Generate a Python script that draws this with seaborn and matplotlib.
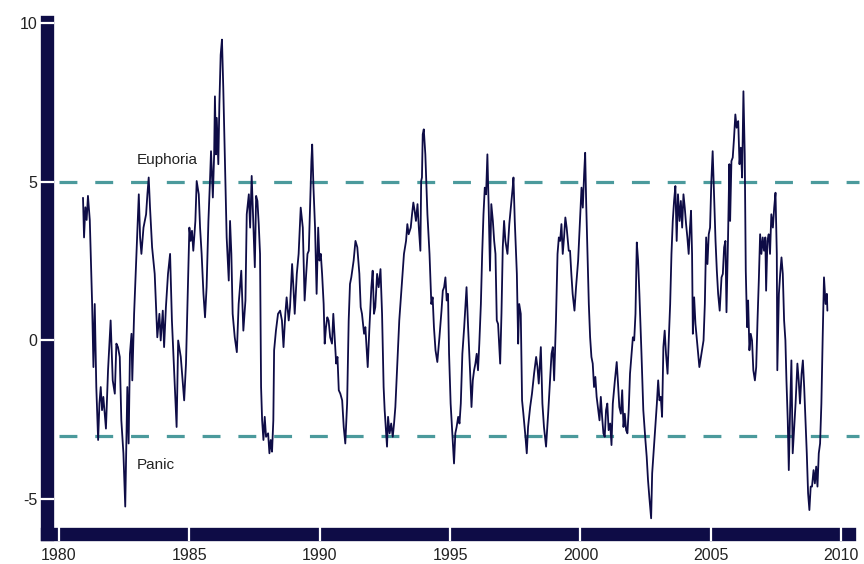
import matplotlib
matplotlib.use("Agg")
import matplotlib.pyplot as plt
import numpy as np
import pandas as pd
import seaborn as sns

# ---------------- data (decimal year, sentiment index) ----------------
t_1981_85 = [1980.92, 1980.96, 1981.01, 1981.06, 1981.11, 1981.18, 1981.27, 1981.32, 1981.37, 1981.43,
             1981.50, 1981.55, 1981.60, 1981.65, 1981.70, 1981.80, 1981.88, 1981.98, 1982.06, 1982.14,
             1982.20, 1982.26, 1982.33, 1982.39, 1982.47, 1982.54, 1982.62, 1982.67, 1982.72, 1982.78,
             1982.81, 1982.88, 1982.95, 1983.06, 1983.11, 1983.16, 1983.24, 1983.34, 1983.39, 1983.44,
             1983.49, 1983.57, 1983.67, 1983.77, 1983.85, 1983.90, 1983.98, 1984.03, 1984.10, 1984.18,
             1984.26, 1984.33, 1984.44, 1984.51, 1984.57, 1984.67, 1984.80, 1984.87, 1984.95, 1985.00,
             1985.05, 1985.10, 1985.15, 1985.23, 1985.28, 1985.36, 1985.41]
v_1981_85 = [4.50, 3.25, 4.20, 3.80, 4.56, 3.80, 1.15, -0.84, 1.15, -1.47,
             -3.14, -1.99, -1.47, -2.20, -1.78, -2.78, -0.94, 0.63, -1.26, -1.68,
             -0.10, -0.21, -0.52, -2.52, -3.56, -5.24, -1.47, -3.25, -0.42, 0.21,
             -1.26, 0.84, 2.31, 4.61, 3.25, 2.73, 3.56, 3.98, 4.61, 5.14,
             4.20, 2.94, 2.10, 0.10, 0.84, 0.00, 0.94, -0.21, 1.05, 2.10,
             2.73, 0.63, -1.47, -2.73, 0.00, -0.52, -1.89, -0.73, 1.89, 3.56,
             3.14, 3.46, 2.83, 3.77, 5.03, 4.61, 3.56]

t_1985_90 = [1985.47, 1985.54, 1985.60, 1985.66, 1985.73, 1985.79, 1985.83, 1985.90, 1985.95, 1985.98,
             1986.02, 1986.05, 1986.11, 1986.15, 1986.20, 1986.25, 1986.30, 1986.37, 1986.43, 1986.51,
             1986.56, 1986.61, 1986.66, 1986.74, 1986.82, 1986.89, 1986.99, 1987.07, 1987.15, 1987.20,
             1987.28, 1987.33, 1987.39, 1987.45, 1987.51, 1987.56, 1987.61, 1987.66, 1987.71, 1987.75,
             1987.79, 1987.84, 1987.89, 1987.94, 1988.02, 1988.07, 1988.12, 1988.17, 1988.22, 1988.25,
             1988.32, 1988.40, 1988.48, 1988.55, 1988.61, 1988.68, 1988.73, 1988.81, 1988.86, 1988.94,
             1988.99, 1989.04, 1989.12, 1989.19, 1989.27, 1989.35, 1989.42, 1989.48, 1989.53, 1989.58,
             1989.63, 1989.68, 1989.71, 1989.76, 1989.82, 1989.88, 1989.94, 1989.99, 1990.04, 1990.09]
v_1985_90 = [2.73, 1.47, 0.73, 1.68, 3.77, 5.03, 5.97, 4.51, 5.87, 7.70,
             5.87, 7.02, 5.56, 7.44, 9.01, 9.49, 7.97, 5.35, 3.25, 1.89,
             3.77, 2.73, 0.84, 0.10, -0.37, 1.15, 2.20, 0.31, 1.26, 3.98,
             4.61, 3.56, 5.19, 3.77, 2.31, 4.56, 4.40, 3.67, 2.73, -1.47,
             -2.52, -3.14, -2.41, -3.04, -2.93, -3.56, -3.14, -3.51, -2.52, -0.31,
             0.31, 0.84, 0.94, 0.63, -0.21, 0.84, 1.36, 0.63, 1.05, 2.41,
             1.68, 0.84, 2.10, 2.73, 4.19, 3.56, 1.26, 2.10, 2.73, 2.83,
             4.19, 5.66, 6.18, 4.82, 3.56, 1.47, 3.56, 2.52, 2.73, 2.10]

t_1990_94 = [1990.15, 1990.19, 1990.24, 1990.29, 1990.34, 1990.40, 1990.47, 1990.52, 1990.57, 1990.63,
             1990.68, 1990.73, 1990.79, 1990.86, 1990.92, 1990.98, 1991.05, 1991.11, 1991.16, 1991.21,
             1991.30, 1991.37, 1991.44, 1991.52, 1991.57, 1991.62, 1991.70, 1991.75, 1991.84, 1991.90,
             1991.98, 1992.03, 1992.08, 1992.13, 1992.20, 1992.26, 1992.33, 1992.39, 1992.45, 1992.49,
             1992.54, 1992.58, 1992.62, 1992.68, 1992.74, 1992.80, 1992.85, 1992.90, 1992.98, 1993.05,
             1993.16, 1993.23, 1993.31, 1993.36, 1993.41, 1993.49, 1993.54, 1993.59, 1993.64, 1993.69,
             1993.75, 1993.80, 1993.86, 1993.89, 1993.92, 1993.95, 1993.99, 1994.05, 1994.13, 1994.21,
             1994.28, 1994.33, 1994.38, 1994.44, 1994.51, 1994.59, 1994.67, 1994.72, 1994.77, 1994.82,
             1994.87]
v_1990_94 = [1.15, -0.10, 0.42, 0.73, 0.63, 0.10, -0.10, 0.84, 0.10, -0.73,
             -0.52, -1.57, -1.68, -1.89, -2.73, -3.25, -1.99, 0.63, 1.78, 1.99,
             2.52, 3.14, 2.94, 2.10, 1.05, 0.84, 0.21, 0.42, -0.84, 0.31,
             1.68, 2.20, 0.84, 1.05, 2.10, 1.68, 2.25, 0.84, -1.47, -2.20,
             -2.83, -3.35, -2.41, -2.93, -2.62, -3.04, -2.62, -2.10, -0.63, 0.63,
             1.89, 2.73, 3.14, 3.67, 3.35, 3.56, 3.98, 4.35, 4.09, 3.77,
             4.30, 3.56, 2.83, 5.03, 5.14, 6.50, 6.66, 5.87, 3.98, 2.73,
             1.15, 1.36, 0.42, -0.31, -0.68, 0.10, 0.94, 1.57, 1.68, 1.99,
             1.26]

t_1995_99 = [1994.92, 1994.96, 1995.02, 1995.09, 1995.15, 1995.20, 1995.25, 1995.31, 1995.36, 1995.41,
             1995.47, 1995.54, 1995.63, 1995.69, 1995.77, 1995.82, 1995.87, 1995.92, 1995.97, 1996.02,
             1996.07, 1996.12, 1996.18, 1996.23, 1996.28, 1996.33, 1996.38, 1996.43, 1996.48, 1996.53,
             1996.58, 1996.64, 1996.69, 1996.74, 1996.79, 1996.84, 1996.92, 1996.97, 1997.02, 1997.07,
             1997.12, 1997.20, 1997.27, 1997.33, 1997.40, 1997.43, 1997.48, 1997.56, 1997.61, 1997.65,
             1997.71, 1997.76, 1997.81, 1997.89, 1997.94, 1997.99, 1998.07, 1998.14, 1998.22, 1998.30,
             1998.35, 1998.40, 1998.48, 1998.54, 1998.60, 1998.68, 1998.76, 1998.83, 1998.89, 1998.94,
             1998.99, 1999.06, 1999.12, 1999.17, 1999.22, 1999.27, 1999.32, 1999.37, 1999.42, 1999.47,
             1999.55]
v_1995_99 = [1.47, -0.42, -1.99, -3.04, -3.88, -2.93, -2.73, -2.41, -2.62, -1.99,
             -0.42, 0.42, 1.68, 0.42, -1.05, -2.10, -1.26, -0.94, -0.73, -0.42,
             -0.94, -0.10, 1.15, 2.73, 3.98, 4.82, 4.61, 5.87, 4.19, 2.20,
             4.30, 3.77, 3.14, 2.73, 0.63, 0.52, -0.73, 0.84, 2.94, 3.77,
             3.14, 2.73, 3.67, 4.19, 4.82, 5.14, 3.77, 2.10, -0.10, 1.15,
             0.84, -1.89, -2.31, -3.04, -3.56, -2.73, -2.10, -1.68, -1.05, -0.52,
             -0.84, -1.36, -0.21, -1.99, -2.73, -3.35, -2.31, -1.26, -0.42, -0.21,
             -1.26, 0.63, 2.73, 3.25, 3.14, 3.67, 2.73, 3.25, 3.88, 3.56,
             2.83]

t_1999_04 = [1999.60, 1999.65, 1999.70, 1999.77, 1999.83, 1999.91, 1999.99, 2000.04, 2000.09, 2000.14,
             2000.18, 2000.22, 2000.27, 2000.32, 2000.37, 2000.42, 2000.47, 2000.52, 2000.57, 2000.62,
             2000.68, 2000.73, 2000.78, 2000.83, 2000.88, 2000.93, 2000.98, 2001.03, 2001.08, 2001.14,
             2001.19, 2001.24, 2001.32, 2001.39, 2001.44, 2001.49, 2001.55, 2001.60, 2001.65, 2001.70,
             2001.75, 2001.80, 2001.85, 2001.90, 2001.95, 2002.01, 2002.06, 2002.11, 2002.16, 2002.21,
             2002.26, 2002.34, 2002.41, 2002.49, 2002.54, 2002.59, 2002.64, 2002.71, 2002.75, 2002.80,
             2002.87, 2002.93, 2002.98, 2003.03, 2003.08, 2003.13, 2003.18, 2003.23, 2003.28, 2003.34,
             2003.39, 2003.44, 2003.49, 2003.54, 2003.59, 2003.64, 2003.69, 2003.74, 2003.80, 2003.85,
             2003.90, 2003.95, 2004.00, 2004.05, 2004.10, 2004.15, 2004.20, 2004.24]
v_1999_04 = [2.83, 2.10, 1.47, 0.94, 1.68, 2.52, 3.98, 4.82, 4.19, 5.24,
             5.92, 4.30, 2.73, 1.15, 0.10, -0.52, -0.73, -1.47, -1.15, -1.78,
             -2.20, -2.52, -1.78, -2.41, -2.93, -3.04, -2.20, -1.99, -2.83, -2.62,
             -3.30, -1.99, -1.26, -0.68, -1.36, -2.10, -2.31, -1.57, -2.73, -2.31,
             -2.83, -2.93, -2.20, -1.05, -0.52, 0.10, 0.00, 0.84, 3.09, 2.52,
             1.47, -0.42, -2.20, -3.14, -3.67, -4.40, -4.93, -5.61, -4.19, -3.56,
             -2.73, -1.99, -1.26, -1.89, -1.78, -2.41, -0.21, 0.31, -0.42, -1.05,
             0.10, 1.15, 2.73, 3.77, 4.40, 4.87, 3.14, 4.61, 3.77, 4.40,
             3.56, 4.61, 4.19, 3.67, 3.25, 2.73, 3.56, 4.09]

t_2004_09 = [2004.28, 2004.31, 2004.36, 2004.41, 2004.49, 2004.56, 2004.64, 2004.72, 2004.77, 2004.82,
             2004.87, 2004.92, 2004.97, 2005.02, 2005.07, 2005.13, 2005.18, 2005.23, 2005.28, 2005.34,
             2005.41, 2005.46, 2005.51, 2005.56, 2005.60, 2005.66, 2005.71, 2005.74, 2005.79, 2005.84,
             2005.89, 2005.94, 2005.99, 2006.05, 2006.10, 2006.15, 2006.20, 2006.25, 2006.30, 2006.34,
             2006.39, 2006.43, 2006.48, 2006.53, 2006.58, 2006.63, 2006.69, 2006.74, 2006.79, 2006.84,
             2006.89, 2006.94, 2006.99, 2007.04, 2007.09, 2007.12, 2007.17, 2007.22, 2007.27, 2007.32,
             2007.38, 2007.43, 2007.48, 2007.53, 2007.55, 2007.61, 2007.66, 2007.71, 2007.76, 2007.81,
             2007.86, 2007.90, 2007.95, 2007.99, 2008.04, 2008.09, 2008.14, 2008.19, 2008.25, 2008.32,
             2008.37, 2008.42, 2008.48, 2008.53, 2008.58, 2008.63, 2008.68, 2008.73, 2008.78, 2008.83,
             2008.88, 2008.94, 2008.99, 2009.04, 2009.09, 2009.14, 2009.19, 2009.24, 2009.29, 2009.34,
             2009.40, 2009.45, 2009.47]
v_2004_09 = [2.73, 0.21, 1.36, 0.52, -0.21, -0.84, -0.42, 0.00, 1.15, 3.25,
             2.41, 3.35, 3.56, 5.03, 5.97, 4.40, 3.14, 2.20, 1.47, 0.94,
             1.99, 2.10, 2.94, 3.14, 0.89, 3.25, 5.56, 3.77, 5.66, 5.77,
             6.39, 7.13, 6.71, 6.92, 5.56, 6.08, 5.14, 7.86, 5.87, 2.20,
             0.42, 1.26, -0.31, 0.21, 0.00, -0.94, -1.26, -0.84, 0.63, 1.89,
             3.35, 2.73, 3.25, 2.83, 3.25, 1.57, 3.14, 3.35, 2.73, 3.98,
             3.56, 4.19, 4.66, 2.73, -0.94, 1.47, 2.10, 2.62, 2.10, 0.63,
             0.00, -1.26, -2.52, -4.09, -2.20, -0.63, -3.56, -2.83, -1.99, -0.73,
             -1.26, -1.99, -1.05, -0.63, -1.47, -2.52, -3.56, -4.82, -5.35, -4.61,
             -4.61, -4.09, -4.51, -3.98, -4.61, -3.56, -3.25, -1.99, 0.10, 1.99,
             1.15, 1.47, 0.94]

x_ticks = [1980, 1985, 1990, 1995, 2000, 2005, 2010]
y_ticks = [-5, 0, 5, 10]
euphoria_level = 5
panic_level = -3
label_euphoria = "Euphoria"
label_panic = "Panic"

segments_t = [t_1981_85, t_1985_90, t_1990_94, t_1995_99, t_1999_04, t_2004_09]
segments_v = [v_1981_85, v_1985_90, v_1990_94, v_1995_99, v_1999_04, v_2004_09]
for a, b in zip(segments_t, segments_v):
    if len(a) != len(b):
        raise ValueError(f"length mismatch {len(a)} vs {len(b)} starting {a[0]}")

df = pd.DataFrame({
    "year": np.concatenate([np.asarray(s, float) for s in segments_t]),
    "index": np.concatenate([np.asarray(s, float) for s in segments_v]),
})

# ---------------- style ----------------
sns.set_theme(style="white")
plt.rcParams["font.family"] = ["Liberation Sans", "DejaVu Sans"]
plt.rcParams["axes.unicode_minus"] = False

NAVY = "#0e0c46"
TEAL = "#4b9a9c"
TEXT = "#222222"

fig = plt.figure(figsize=(8.64, 5.64), dpi=100)
ax = fig.add_axes([46.5 / 864, 30.5 / 564, 802 / 864, 511 / 564])

# threshold lines
ax.plot([1980, 2010.69], [euphoria_level, euphoria_level], color=TEAL, lw=2.3,
        dashes=(5.6, 5.6), clip_on=False, zorder=1.5)
ax.plot([1980, 2010.69], [panic_level, panic_level], color=TEAL, lw=2.3,
        dashes=(5.6, 5.6), clip_on=False, zorder=1.5)

sns.lineplot(data=df, x="year", y="index", color=NAVY, linewidth=1.3,
             estimator=None, sort=False, ax=ax, zorder=2)

ax.text(1983, 5.57, label_euphoria, ha="left", va="baseline", fontsize=11, color=TEXT)
ax.text(1983, -4.06, label_panic, ha="left", va="baseline", fontsize=11, color=TEXT)

ax.set_xlim(1979.52, 2010.28)
ax.set_ylim(-6.09, 10.03)
ax.set_xticks(x_ticks)
ax.set_xticklabels([str(v) for v in x_ticks])
ax.set_yticks(y_ticks)
ax.set_yticklabels([str(v) for v in y_ticks])
ax.set_xlabel("")
ax.set_ylabel("")

for s in ["top", "right"]:
    ax.spines[s].set_visible(False)
for s in ["left", "bottom"]:
    ax.spines[s].set_color(NAVY)
    ax.spines[s].set_linewidth(9.6)
    ax.spines[s].set_capstyle("projecting")

ax.set_axisbelow(False)
ax.tick_params(axis="both", which="major", bottom=True, left=True, top=False, right=False,
               direction="inout", length=10.5, width=1.6,
               color="white", labelsize=11.5, labelcolor=TEXT)
ax.tick_params(axis="x", pad=5.0)
ax.tick_params(axis="y", pad=1.5)
ax.xaxis.set_zorder(3)
ax.yaxis.set_zorder(3)
ax.grid(False)

fig.savefig("out.png", dpi=100)
